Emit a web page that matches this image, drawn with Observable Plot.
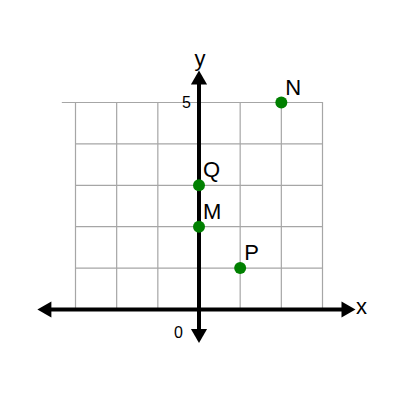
<!DOCTYPE html>
<html>
<head>
<meta charset="utf-8">
<script src="https://cdn.jsdelivr.net/npm/d3@7"></script>
<script src="https://cdn.jsdelivr.net/npm/@observablehq/plot@0.6"></script>
<style>
  html, body { margin: 0; padding: 0; background: #fff; }
</style>
</head>
<body>
<div id="chart"></div>
<script>
// Data
const pointLabels = ["N", "Q", "M", "P"];
const pointX = [2, 0, 0, 1];
const pointY = [5, 3, 2, 1];
const gridX = [-3, -2, -1, 0, 1, 2, 3];
const gridY = [0, 1, 2, 3, 4];
const tickValues = [0, 5];
const tickLabels = ["0", "5"];
const axisNames = ["x", "y"];
// axis line extents (data units) and arrowhead positions
const xAxisExtent = [-3.72, 3.58];
const yAxisExtent = [-0.56, 5.53];
const arrowX = [-3.70, 3.575, 0, 0];
const arrowY = [0, 0, 5.547, -0.583];
const arrowRotate = [-90, 90, 0, 180];

const points = pointLabels.map((label, i) => ({label, x: pointX[i], y: pointY[i]}));
const arrows = arrowX.map((x, i) => ({x, y: arrowY[i], rotate: arrowRotate[i]}));

const chart = Plot.plot({
  width: 400,
  height: 400,
  marginLeft: 75,
  marginRight: 78,
  marginTop: 102,
  marginBottom: 91,
  x: {domain: [-3, 3], axis: null},
  y: {domain: [0, 5], axis: null},
  style: {fontFamily: "'Liberation Sans', Arial, sans-serif", background: "#fff"},
  marks: [
    Plot.ruleX(gridX, {x: d => d, y1: 0, y2: 5, stroke: "#a6a6a6", strokeWidth: 1.2}),
    Plot.ruleY(gridY, {y: d => d, x1: -3, x2: 3, stroke: "#a6a6a6", strokeWidth: 1.2}),
    Plot.ruleY([5], {y: d => d, x1: -3.32, x2: 3, stroke: "#a6a6a6", strokeWidth: 1.2}),
    Plot.ruleY([0], {y: d => d, x1: xAxisExtent[0], x2: xAxisExtent[1], stroke: "black", strokeWidth: 4}),
    Plot.ruleX([0], {x: d => d, y1: yAxisExtent[0], y2: yAxisExtent[1], stroke: "black", strokeWidth: 4}),
    Plot.dot(arrows, {x: "x", y: "y", rotate: "rotate", symbol: "triangle", r: 6, fill: "black", stroke: "none"}),
    Plot.dot(points, {x: "x", y: "y", r: 6, fill: "#008000", stroke: "none"}),
    Plot.text(points, {x: "x", y: "y", text: "label", textAnchor: "start", dx: 4, dy: -15, fontSize: 22, fill: "black"}),
    Plot.text([tickValues[0]], {x: 0, y: d => d, text: () => tickLabels[0], textAnchor: "end", dx: -16, dy: 23, fontSize: 16, fill: "black"}),
    Plot.text([tickValues[1]], {x: 0, y: d => d, text: () => tickLabels[1], textAnchor: "end", dx: -8, dy: 0, fontSize: 16, fill: "black"}),
    Plot.text([axisNames[0]], {x: 3, y: 0, text: d => d, textAnchor: "middle", dx: 39, dy: -3, fontSize: 22, fill: "black"}),
    Plot.text([axisNames[1]], {x: 0, y: 5, text: d => d, textAnchor: "middle", dx: 1, dy: -44, fontSize: 22, fill: "black"})
  ]
});
document.getElementById("chart").appendChild(chart);
</script>
</body>
</html>
